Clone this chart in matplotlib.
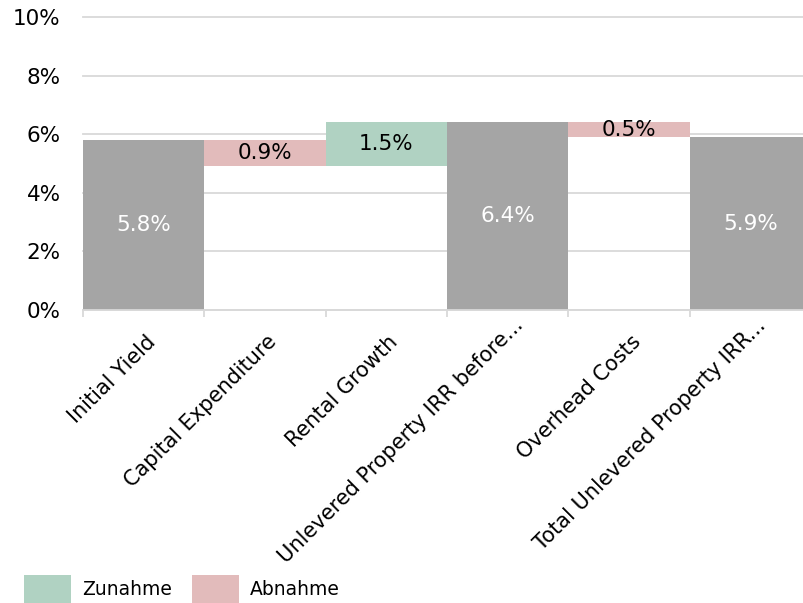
import matplotlib
matplotlib.use("Agg")
import matplotlib.pyplot as plt
import matplotlib.transforms as mtransforms
from matplotlib.patches import Patch

categories = ["Initial Yield", "Capital Expenditure", "Rental Growth",
              "Unlevered Property IRR before...", "Overhead Costs",
              "Total Unlevered Property IRR..."]
values = [5.8, -0.9, 1.5, 6.4, -0.5, 5.9]
is_total = [True, False, False, True, False, True]
yticks = [0, 2, 4, 6, 8, 10]
legend_labels = ["Zunahme", "Abnahme"]

GRAY = "#A5A5A5"
GREEN = "#B0D2C2"
PINK = "#E2BBBB"
GRID = "#D9D9D9"

plt.rcParams["font.family"] = "DejaVu Sans"

fig = plt.figure(figsize=(8.04, 6.03), dpi=100)
ax = fig.add_axes([83 / 804, 1 - 310 / 603, 728 / 804, (310 - 17) / 603])

# running level for the floating bars
running = 0.0
for i, (v, tot) in enumerate(zip(values, is_total)):
    if tot:
        bottom, height, color = 0.0, v, GRAY
        running = v
        txt_color = "white"
    else:
        if v >= 0:
            bottom, height, color = running, v, GREEN
        else:
            bottom, height, color = running + v, -v, PINK
        running += v
        txt_color = "black"
    ax.bar(i, height, bottom=bottom, width=1.0, color=color, zorder=2)
    ax.text(i, bottom + height / 2, f"{abs(v):.1f}%", ha="center", va="center",
            color=txt_color, fontsize=15.5, zorder=3)

ax.set_xlim(-0.5, len(categories) - 0.5)
ax.set_ylim(0, 10)
ax.set_yticks(yticks)
ax.set_yticklabels([f"{t}%" for t in yticks], fontsize=15.5)
ax.yaxis.grid(True, color=GRID, linewidth=1.3, zorder=0)
for gl in ax.get_ygridlines():
    gl.set_clip_on(False)
ax.tick_params(axis="y", length=0, pad=16)

# category boundaries carry the small tick marks
ax.set_xticks([i - 0.5 for i in range(len(categories) + 1)])
ax.set_xticklabels([])
ax.tick_params(axis="x", length=5, color=GRID, width=1.3)

# rotated category names, right end anchored under each bar centre
blend = mtransforms.blended_transform_factory(ax.transData, ax.transAxes)
for i, cat in enumerate(categories):
    if cat.endswith("..."):
        dx, dy = 5 / 100, -5 / 100
    else:
        dx, dy = 1.5 / 100, -21.5 / 100
    off = mtransforms.ScaledTranslation(dx, dy, fig.dpi_scale_trans)
    ax.text(i, 0, cat, transform=blend + off, rotation=45, ha="right",
            va="top", rotation_mode="anchor", fontsize=15, clip_on=False)

for s in ["top", "right", "left"]:
    ax.spines[s].set_visible(False)
ax.spines["bottom"].set_color(GRID)
ax.spines["bottom"].set_linewidth(1.3)

handles = [Patch(facecolor=GREEN), Patch(facecolor=PINK)]
fig.legend(handles, legend_labels, loc="lower left", bbox_to_anchor=(24 / 804, 0.0),
           ncol=2, frameon=False, fontsize=13.5, borderpad=0, borderaxespad=0,
           handlelength=2.5, handleheight=1.9, handletextpad=0.6,
           columnspacing=1.05)

fig.savefig("out.png", dpi=100)
